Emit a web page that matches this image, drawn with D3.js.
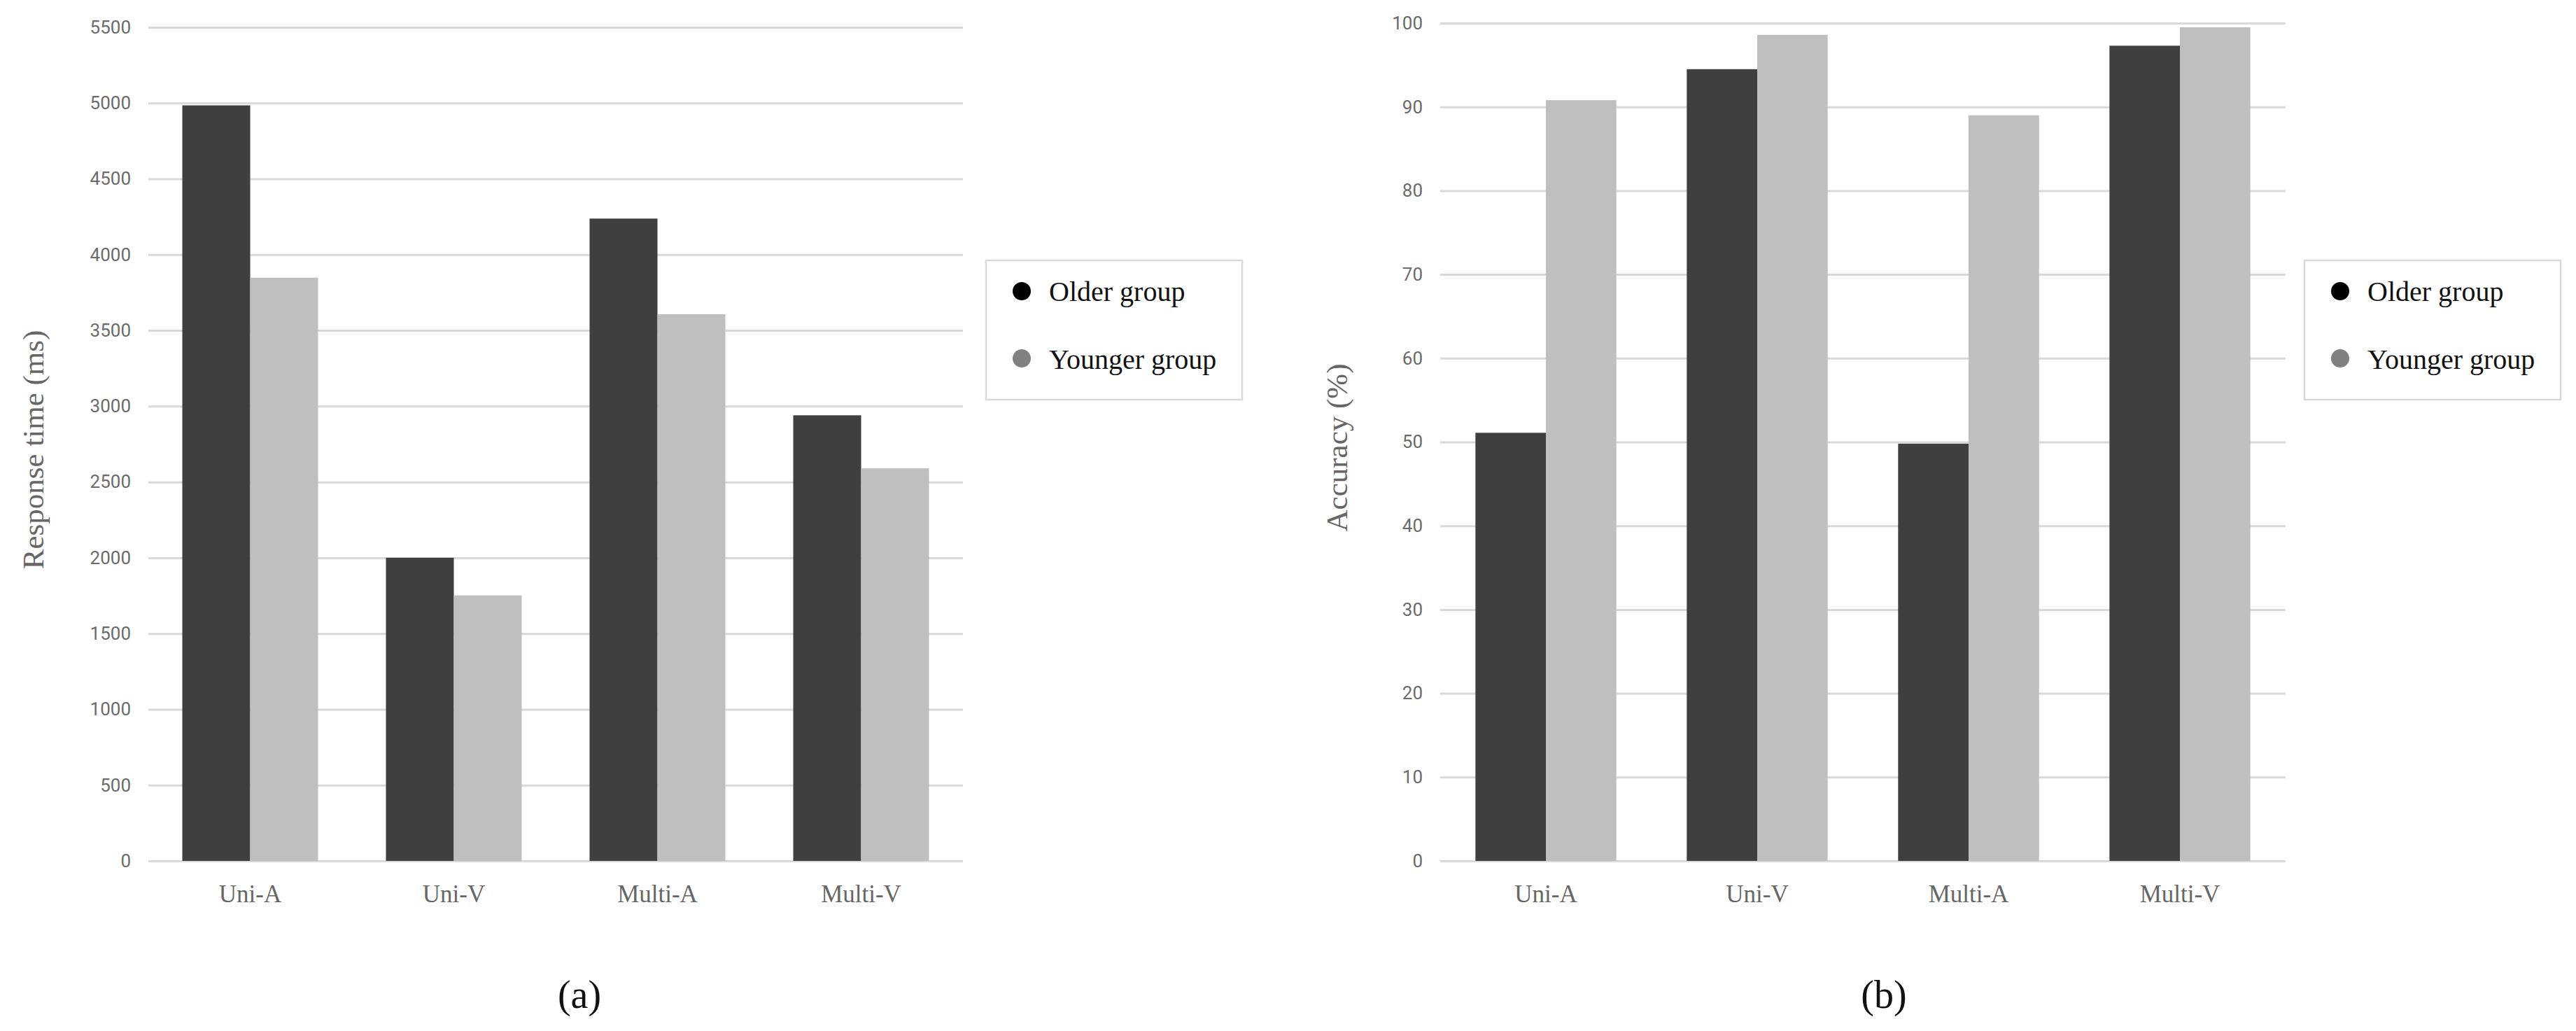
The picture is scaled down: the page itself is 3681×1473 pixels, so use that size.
<!DOCTYPE html>
<html>
<head>
<meta charset="utf-8">
<script src="https://cdn.jsdelivr.net/npm/d3@7"></script>
<style>
  html, body { margin: 0; padding: 0; background: #ffffff; }
  svg { display: block; }
</style>
</head>
<body>
<svg id="chart" width="3681" height="1473"></svg>
<script>
// ---- data ----
const categories = ["Uni-A", "Uni-V", "Multi-A", "Multi-V"];
const seriesNames = ["Older group", "Younger group"];
const rtOlder = [4985, 2000, 4238, 2940];
const rtYounger = [3848, 1752, 3607, 2590];
const accOlder = [51.1, 94.5, 49.8, 97.3];
const accYounger = [90.8, 98.6, 89.0, 99.5];
const rtTicks = [0, 500, 1000, 1500, 2000, 2500, 3000, 3500, 4000, 4500, 5000, 5500];
const accTicks = [0, 10, 20, 30, 40, 50, 60, 70, 80, 90, 100];
const panelLabels = ["(a)", "(b)"];
const yTitles = ["Response time (ms)", "Accuracy (%)"];

// ---- styles ----
const colors = { "Older group": "#3f3f3f", "Younger group": "#bfbfbf" };
const legendColors = { "Older group": "#000000", "Younger group": "#808080" };
const serif = "'Liberation Serif', 'DejaVu Serif', serif";
const sans = "Roboto, 'Open Sans', 'Liberation Sans', sans-serif";

const svg = d3.select("#chart");

function panel(cfg) {
  const g = svg.append("g");
  const y = d3.scaleLinear().domain(cfg.domain).range([cfg.y0, cfg.y1]);
  const x = d3.scaleBand().domain(categories).range([cfg.x0, cfg.x1]).paddingInner(1/3).paddingOuter(1/6);
  const xs = d3.scaleBand().domain(seriesNames).range([0, x.bandwidth()]);

  // y axis with gridlines
  const yAxis = d3.axisLeft(y).tickValues(cfg.ticks).tickFormat(d3.format("d"))
    .tickSize(-(cfg.x1 - cfg.x0)).tickPadding(25);
  const ya = g.append("g").attr("transform", `translate(${cfg.x0},0)`).call(yAxis);
  ya.select(".domain").remove();
  ya.selectAll(".tick line").attr("stroke", "#d9d9d9").attr("stroke-width", 3);
  ya.selectAll(".tick text").attr("fill", "#6b6b6b").style("font-family", sans).style("font-size", "26px");

  // bars
  const rows = categories.map((c, i) => ({ cat: c, vals: [
    { s: seriesNames[0], v: cfg.older[i] },
    { s: seriesNames[1], v: cfg.younger[i] } ] }));
  const grp = g.selectAll(".grp").data(rows).join("g")
    .attr("transform", d => `translate(${x(d.cat)},0)`);
  grp.selectAll("rect").data(d => d.vals).join("rect")
    .attr("x", d => xs(d.s))
    .attr("width", xs.bandwidth())
    .attr("y", d => y(d.v))
    .attr("height", d => y(0) - y(d.v))
    .attr("fill", d => colors[d.s]);

  // x axis labels
  const xAxis = d3.axisBottom(x).tickSize(0).tickPadding(34);
  const xa = g.append("g").attr("transform", `translate(0,${cfg.y0})`).call(xAxis);
  xa.select(".domain").remove();
  xa.selectAll(".tick text").attr("fill", "#666666").style("font-family", serif).style("font-size", "35px");

  // y title
  g.append("text")
    .attr("transform", `translate(${cfg.titleX},${(cfg.y0 + cfg.y1) / 2 + 8}) rotate(-90)`)
    .attr("text-anchor", "middle")
    .attr("dominant-baseline", "central")
    .attr("fill", "#666666")
    .style("font-family", serif)
    .style("font-size", "43px")
    .text(cfg.title);

  // legend
  const lg = g.append("g").attr("transform", `translate(${cfg.legX},372)`);
  lg.append("rect").attr("x", 0).attr("y", 0).attr("width", 366).attr("height", 199)
    .attr("fill", "#ffffff").attr("stroke", "#d9d9d9").attr("stroke-width", 2.5);
  seriesNames.forEach((s, i) => {
    lg.append("circle").attr("cx", 51).attr("cy", 44 + i * 96).attr("r", 13).attr("fill", legendColors[s]);
    lg.append("text").attr("x", 90).attr("y", 58 + i * 97)
      .attr("fill", "#111111").style("font-family", serif).style("font-size", "40px").text(s);
  });

  // panel label
  g.append("text").attr("x", cfg.labelX).attr("y", 1440).attr("text-anchor", "middle")
    .attr("fill", "#111111").style("font-family", serif).style("font-size", "56px").text(cfg.label);
}

panel({ domain: [0, 5500], ticks: rtTicks, y0: 1230, y1: 39, x0: 212, x1: 1376,
  older: rtOlder, younger: rtYounger, title: yTitles[0], titleX: 47, legX: 1409,
  label: panelLabels[0], labelX: 828 });
panel({ domain: [0, 100], ticks: accTicks, y0: 1230, y1: 33, x0: 2058, x1: 3266,
  older: accOlder, younger: accYounger, title: yTitles[1], titleX: 1910, legX: 3293,
  label: panelLabels[1], labelX: 2692 });
</script>
</body>
</html>
